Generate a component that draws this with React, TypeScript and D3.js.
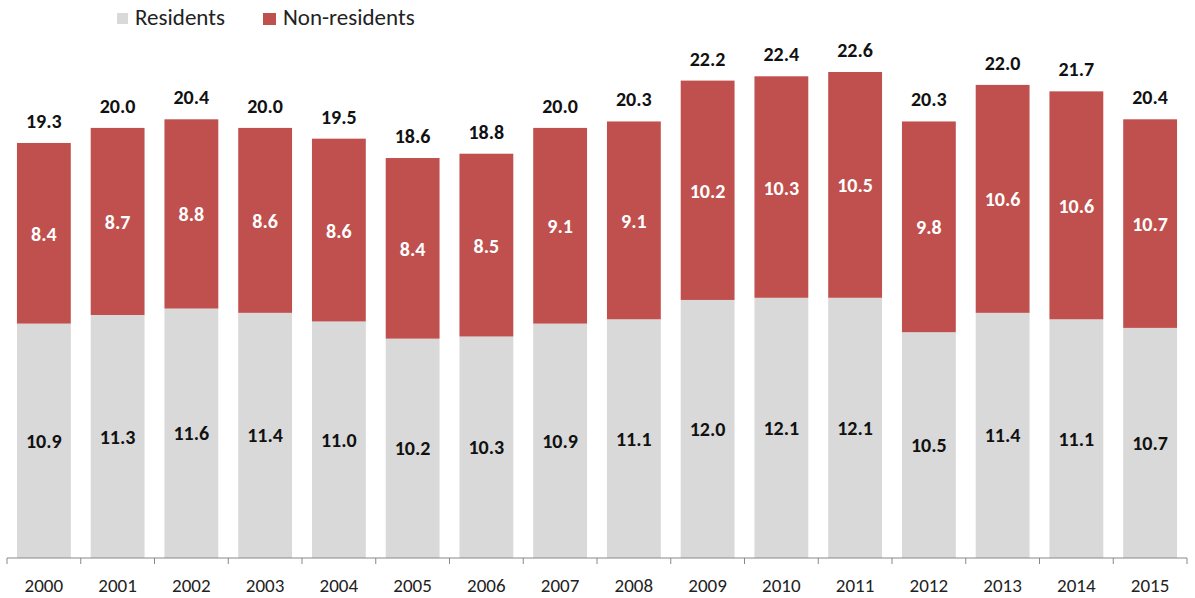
import React from "react";
import * as d3 from "d3";

const years = ["2000","2001","2002","2003","2004","2005","2006","2007","2008","2009","2010","2011","2012","2013","2014","2015"];
const residents = [10.9,11.3,11.6,11.4,11.0,10.2,10.3,10.9,11.1,12.0,12.1,12.1,10.5,11.4,11.1,10.7];
const nonResidents = [8.4,8.7,8.8,8.6,8.6,8.4,8.5,9.1,9.1,10.2,10.3,10.5,9.8,10.6,10.6,10.7];
const totals = [19.3,20.0,20.4,20.0,19.5,18.6,18.8,20.0,20.3,22.2,22.4,22.6,20.3,22.0,21.7,20.4];
const seriesNames = ["Residents", "Non-residents"];
const colors = ["#D9D9D9", "#C0504D"];

const W = 1195, H = 598;
const left = 7, right = 1187, baseY = 558;
const font = "Carlito, Lato, 'Liberation Sans', sans-serif";

export default function App() {
  const x = d3.scaleBand<string>().domain(years).range([left, right]).paddingInner(0.27).paddingOuter(0.135);
  const y = d3.scaleLinear().domain([0, 22.6]).range([baseY, 72]);
  const step = x.step();
  return (
    <svg width={W} height={H} style={{ position: "absolute", left: 0, top: 0 }} fontFamily={font}>
      {/* legend */}
      <rect x={117} y={13} width={11} height={11} fill={colors[0]} />
      <text x={135} y={25} fontSize={23} fill="#222">{seriesNames[0]}</text>
      <rect x={263} y={13} width={13} height={12} fill={colors[1]} />
      <text x={283} y={25} fontSize={23} fill="#222">{seriesNames[1]}</text>
      {years.map((yr, i) => {
        const bx = x(yr)!;
        const bw = x.bandwidth();
        const r = residents[i];
        const n = nonResidents[i];
        const t = totals[i];
        const yR = y(r);
        const yT = y(t);
        const cx = bx + bw / 2;
        return (
          <g key={yr}>
            <rect x={bx} y={yR} width={bw} height={baseY - yR} fill={colors[0]} />
            <rect x={bx} y={yT} width={bw} height={yR - yT} fill={colors[1]} />
            <text x={cx} y={(yR + baseY) / 2 + 7} textAnchor="middle" fontSize={20} fontWeight="bold" fill="#111">{r.toFixed(1)}</text>
            <text x={cx} y={(yT + yR) / 2 + 7.5} textAnchor="middle" fontSize={20} fontWeight="bold" fill="#fff">{n.toFixed(1)}</text>
            <text x={cx} y={yT - 15} textAnchor="middle" fontSize={20} fontWeight="bold" fill="#111">{t.toFixed(1)}</text>
            <text x={cx} y={592} textAnchor="middle" fontSize={19} fill="#222">{yr}</text>
          </g>
        );
      })}
      <line x1={left} x2={right} y1={baseY} y2={baseY} stroke="#888" strokeWidth={1} />
      {d3.range(years.length + 1).map((k) => (
        <line key={k} x1={left + k * step} x2={left + k * step} y1={baseY} y2={baseY + 6} stroke="#888" strokeWidth={1} />
      ))}
    </svg>
  );
}
